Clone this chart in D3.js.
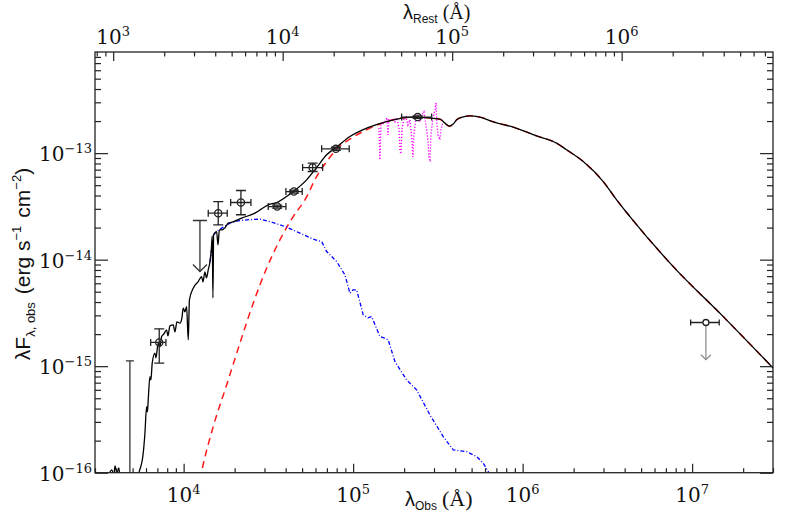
<!DOCTYPE html>
<html><head><meta charset="utf-8">
<script src="https://cdn.jsdelivr.net/npm/d3@7"></script>
<style>body{margin:0;background:#fff}svg{display:block}</style>
</head><body>
<svg id="c" width="789" height="526"></svg>
<script>
// ---------- data ----------
const zPlus1 = 3.84;
const xTickMajors = [1e4, 1e5, 1e6, 1e7];
const xRestMajors = [1e3, 1e4, 1e5, 1e6];
const yTickMajors = [1e-16, 1e-15, 1e-14, 1e-13];

// total model / spectrum (black)
const totLam = [3433,3776,3880,3933,4041,4152,4267,5232,5471,5776,5911,6049,6115,6182,6326,6413,6526,6771,6864,7081,7248,7417,7652,7937,8080,8302,8682,8886,9130,9511,9772,9945,10180,10410,10650,10820,11390,12190,12770,13000,13360,13630,13970,14300,14590,14750,14890,15030,15660,15940,16260,16760,17530,18330,19540,21990,26340,31560,35370,44320,53180,60910,69790,79910,95740,120100,157600,226200,325200,348000,368900,388000,408000,446200,488800,560100,670800,879900,1.209e6,1.587e6,1.818e6,2.278e6,2.989e6,3.585e6,4.295e6,7.736e6,1.526e7,3.01e7];
const totF = [6.9e-17,1.062e-16,9.33e-17,1.159e-16,9.96e-17,1.109e-16,6.9e-17,8.56e-17,1.024e-16,1.524e-16,2.349e-16,4.175e-16,3.723e-16,4.827e-16,7.98e-16,7.43e-16,1.067e-15,1.324e-15,1.197e-15,1.644e-15,1.518e-15,1.897e-15,2.01e-15,2.192e-15,1.926e-15,2.39e-15,2.442e-15,2.099e-15,2.606e-15,2.534e-15,2.841e-15,3.504e-15,3.235e-15,3.627e-15,1.766e-15,4.195e-15,5.40e-15,6.23e-15,6.94e-15,6.19e-15,7.68e-15,6.75e-15,8.02e-15,9.53e-15,1.29e-14,1.673e-14,4.38e-15,1.71e-14,1.836e-14,1.377e-14,1.905e-14,1.905e-14,1.989e-14,2.202e-14,2.264e-14,2.453e-14,2.733e-14,3.27e-14,3.437e-14,4.358e-14,5.614e-14,7.325e-14,9.64e-14,1.138e-13,1.432e-13,1.717e-13,1.98e-13,2.178e-13,2.085e-13,1.913e-13,1.789e-13,1.864e-13,2.055e-13,2.192e-13,2.24e-13,2.178e-13,1.967e-13,1.754e-13,1.453e-13,1.241e-13,1.074e-13,8.34e-14,5.41e-14,3.642e-14,2.539e-14,8.61e-15,2.921e-15,9.58e-16];

// stellar component (blue)
const starLam = [14300,15030,15660,16830,18760,20910,23540,28190,33770,40520,48530,58160,65200,69790,79910,89440,95740,99720,104900,114700,122300,128600,143900,152000,161100,176500,206800,236900,283900,340100,389600,467200,535400,585800,626900,659200];
const starF = [9.53e-15,1.71e-14,1.836e-14,1.989e-14,2.202e-14,2.313e-14,2.364e-14,2.4e-14,2.231e-14,2.019e-14,1.774e-14,1.558e-14,1.479e-14,1.192e-14,9.6e-15,7.2e-15,4.845e-15,5.2e-15,5.2e-15,3.031e-15,2.841e-15,2.921e-15,1.896e-15,1.843e-15,1.766e-15,1.104e-15,7.43e-16,5.99e-16,3.488e-16,2.183e-16,1.637e-16,1.578e-16,1.416e-16,1.228e-16,1.024e-16,8.56e-17];

// dust component (red dashed)
const dustLam = [12480,12770,14950,17940,21490,25740,30880,36990,44320,51960,60910,69790,79910,100100,125700,157600,226200,325200,348000,368900,388000,408000,446200,488800,560100,670800,879900,1.209e6,1.587e6,1.818e6,2.278e6,2.989e6,3.585e6,4.295e6,7.736e6,1.526e7,3.01e7];
const dustF = [8.56e-17,1.024e-16,2.709e-16,6.67e-16,1.644e-15,3.905e-15,8.32e-15,1.534e-14,2.539e-14,3.642e-14,6.03e-14,8.34e-14,1.09e-13,1.413e-13,1.717e-13,1.98e-13,2.178e-13,2.085e-13,1.913e-13,1.789e-13,1.864e-13,2.055e-13,2.192e-13,2.24e-13,2.178e-13,1.967e-13,1.754e-13,1.453e-13,1.241e-13,1.074e-13,8.34e-14,5.41e-14,3.642e-14,2.539e-14,8.61e-15,2.921e-15,9.58e-16];

// IRS spectrum (magenta dotted)
const irsLam = [142000,143900,145900,149900,154000,158300,160400,162600,167100,171700,176500,181300,186300,188900,191400,194100,199400,204900,210500,216300,222300,225300,228400,234700,241200,247800,254600,261600,268800,276200,280000,283900,287700,295700,303800,308000,312200,316500,325200,329600,338700];
const irsF = [1.724e-13,8.65e-14,1.843e-13,1.884e-13,1.967e-13,2.145e-13,1.485e-13,2.055e-13,2.01e-13,2.099e-13,1.967e-13,2.145e-13,1.724e-13,1.074e-13,9.85e-14,1.655e-13,2.099e-13,2.192e-13,1.843e-13,2.055e-13,1.333e-13,9.23e-14,1.485e-13,2.145e-13,2.24e-13,1.967e-13,2.289e-13,2.442e-13,1.843e-13,1.333e-13,9.03e-14,8.65e-14,1.485e-13,2.145e-13,2.55e-13,2.966e-13,1.843e-13,1.485e-13,1.333e-13,1.655e-13,1.967e-13];

// photometry
const photLam   = [7180, 16000, 21780, 35660, 44740, 57680, 79140, 240300];
const photLamLo = [6390, 13970, 18940, 31560, 40130, 50350, 65200, 193300];
const photLamHi = [7860, 18080, 24950, 40130, 50070, 66070, 94850, 290500];
const photF     = [1.67e-15, 2.73e-14, 3.44e-14, 3.15e-14, 4.36e-14, 7.32e-14, 1.097e-13, 2.18e-13];
const photFLo   = [1.07e-15, 2.12e-14, 2.64e-14, 3.05e-14, 4.22e-14, 6.72e-14, 1.06e-13, 2.12e-13];
const photFHi   = [2.24e-15, 3.51e-14, 4.46e-14, 3.25e-14, 4.50e-14, 8.05e-14, 1.135e-13, 2.24e-13];

// upper limits (bar with cap)
const ulLam = [4820, 12480];
const ulF   = [1.12e-15, 2.33e-14];
const ulTip = [8e-17, 7.73e-15];

// far-IR upper limit with point
const farLam = [1.206e7], farLamLo = [9.8e6], farLamHi = [1.445e7];
const farF = [2.57e-15], farTip = [1.15e-15];

// ---------- drawing ----------
const L = 95, R = 773, T = 52, B = 472.7;
const svg = d3.select("#c");
const x = d3.scaleLog().domain([3000, 3e7]).range([L, R]);
const xr = d3.scaleLog().domain([3000 / zPlus1, 3e7 / zPlus1]).range([L, R]);
const y = d3.scaleLog().domain([1e-16, 8.9e-13]).range([B, T]);

function minors(dom) {
  const out = [];
  const lo = Math.floor(Math.log10(dom[0])) , hi = Math.ceil(Math.log10(dom[1]));
  for (let e = lo; e <= hi; e++) for (let m = 2; m <= 9; m++) {
    const v = m * Math.pow(10, e);
    if (v >= dom[0] && v <= dom[1]) out.push(v);
  }
  return out;
}

svg.append("defs").append("clipPath").attr("id", "clip")
  .append("rect").attr("x", L).attr("y", T).attr("width", R - L).attr("height", B - T);

const plot = svg.append("g").attr("clip-path", "url(#clip)");
const zip = (a, b) => a.map((v, i) => [v, b[i]]);
const lin = d3.line().x(d => x(d[0])).y(d => y(d[1]));
const smooth = d3.line().x(d => x(d[0])).y(d => y(d[1])).curve(d3.curveMonotoneX);

// dust (red dashed)
plot.append("path").datum(zip(dustLam, dustF))
  .attr("d", smooth).attr("fill", "none")
  .attr("stroke", "#ff1a1a").attr("stroke-width", 1.5).attr("stroke-dasharray", "7,5");
// stars (blue dash-dot)
plot.append("path").datum(zip(starLam, starF))
  .attr("d", lin).attr("fill", "none")
  .attr("stroke", "#0000ff").attr("stroke-width", 1.3).attr("stroke-dasharray", "4,2,1,2");
// IRS (magenta dotted)
plot.append("path").datum(zip(irsLam, irsF))
  .attr("d", lin).attr("fill", "none")
  .attr("stroke", "#ff00ff").attr("stroke-width", 1.4).attr("stroke-dasharray", "1.2,1.8");
// total (black)
plot.append("path").datum(zip(totLam, totF))
  .attr("d", smooth).attr("fill", "none")
  .attr("stroke", "#000").attr("stroke-width", 1.3);

// upper limits with cap
ulLam.forEach((l, i) => {
  const px = x(l), py = y(ulF[i]), pt = y(ulTip[i]);
  const g = plot.append("g").attr("stroke", "#333").attr("stroke-width", 1.3).attr("fill", "none");
  g.append("line").attr("x1", px).attr("x2", px).attr("y1", py).attr("y2", pt);
  const cw = i === 0 ? 4 : 7;
  g.append("line").attr("x1", px - cw).attr("x2", px + cw).attr("y1", py).attr("y2", py);
  g.append("path").attr("d", `M${px - 7},${pt - 7}L${px},${pt}L${px + 7},${pt - 7}`);
});

// far-IR limit
farLam.forEach((l, i) => {
  const px = x(l), py = y(farF[i]), pt = y(farTip[i]);
  const g = plot.append("g").attr("fill", "none");
  g.append("line").attr("x1", px).attr("x2", px).attr("y1", py).attr("y2", pt).attr("stroke", "#888").attr("stroke-width", 1.2);
  g.append("path").attr("d", `M${px - 5},${pt - 5}L${px},${pt}L${px + 5},${pt - 5}`).attr("stroke", "#888").attr("stroke-width", 1.2);
  g.append("line").attr("x1", x(farLamLo[i])).attr("x2", x(farLamHi[i])).attr("y1", py).attr("y2", py).attr("stroke", "#222").attr("stroke-width", 1.3);
  [farLamLo[i], farLamHi[i]].forEach(v => g.append("line").attr("x1", x(v)).attr("x2", x(v)).attr("y1", py - 3).attr("y2", py + 3).attr("stroke", "#222").attr("stroke-width", 1.3));
  g.append("circle").attr("cx", px).attr("cy", py).attr("r", 3).attr("stroke", "#222").attr("stroke-width", 1.3).attr("fill", "#fff");
});

// photometry
photLam.forEach((l, i) => {
  const px = x(l), py = y(photF[i]);
  const g = plot.append("g").attr("stroke", "#222").attr("stroke-width", 1.3).attr("fill", "none");
  g.append("line").attr("x1", x(photLamLo[i])).attr("x2", x(photLamHi[i])).attr("y1", py).attr("y2", py);
  [photLamLo[i], photLamHi[i]].forEach(v => g.append("line").attr("x1", x(v)).attr("x2", x(v)).attr("y1", py - 3.5).attr("y2", py + 3.5));
  g.append("line").attr("x1", px).attr("x2", px).attr("y1", y(photFLo[i])).attr("y2", y(photFHi[i]));
  [photFLo[i], photFHi[i]].forEach(v => g.append("line").attr("x1", px - 5).attr("x2", px + 5).attr("y1", y(v)).attr("y2", y(v)));
  g.append("circle").attr("cx", px).attr("cy", py).attr("r", 3.6);
});

// ---------- axes ----------
const axStroke = "#222";
function styleAxis(g) {
  g.select(".domain").remove();
  g.selectAll("line").attr("stroke", axStroke).attr("stroke-width", 1.2);
  g.selectAll("text").remove();
}
svg.append("g").attr("transform", `translate(0,${B})`)
  .call(d3.axisBottom(x).tickValues(xTickMajors).tickSizeInner(-9).tickSizeOuter(0)).call(styleAxis);
svg.append("g").attr("transform", `translate(0,${B})`)
  .call(d3.axisBottom(x).tickValues(minors(x.domain())).tickSizeInner(-4.5).tickSizeOuter(0)).call(styleAxis);
svg.append("g").attr("transform", `translate(0,${T})`)
  .call(d3.axisTop(xr).tickValues(xRestMajors).tickSizeInner(-9).tickSizeOuter(0)).call(styleAxis);
svg.append("g").attr("transform", `translate(0,${T})`)
  .call(d3.axisTop(xr).tickValues(minors(xr.domain())).tickSizeInner(-4.5).tickSizeOuter(0)).call(styleAxis);
svg.append("g").attr("transform", `translate(${L},0)`)
  .call(d3.axisLeft(y).tickValues(yTickMajors).tickSizeInner(-13).tickSizeOuter(0)).call(styleAxis);
svg.append("g").attr("transform", `translate(${L},0)`)
  .call(d3.axisLeft(y).tickValues(minors(y.domain())).tickSizeInner(-6).tickSizeOuter(0)).call(styleAxis);
svg.append("g").attr("transform", `translate(${R},0)`)
  .call(d3.axisRight(y).tickValues(yTickMajors).tickSizeInner(-13).tickSizeOuter(0)).call(styleAxis);
svg.append("g").attr("transform", `translate(${R},0)`)
  .call(d3.axisRight(y).tickValues(minors(y.domain())).tickSizeInner(-6).tickSizeOuter(0)).call(styleAxis);

svg.append("rect").attr("x", L).attr("y", T).attr("width", R - L).attr("height", B - T)
  .attr("fill", "none").attr("stroke", axStroke).attr("stroke-width", 1.3);

// tick labels
const serif = "'DejaVu Serif', 'Liberation Serif', serif";
const serif2 = "'Liberation Serif', 'Times New Roman', serif";
const sans = "'Liberation Sans', Arial, sans-serif";
function powLabel(sel, v) {
  const e = Math.round(Math.log10(v));
  sel.append("tspan").text("10");
  sel.append("tspan").attr("font-size", 13).attr("dy", -8).text(e < 0 ? "\u2212" + (-e) : String(e));
}
xTickMajors.forEach(v => {
  svg.append("text").attr("x", x(v)).attr("y", 502).attr("text-anchor", "middle")
    .attr("font-family", serif).attr("font-size", 20).attr("fill", "#111").call(powLabel, v);
});
xRestMajors.forEach(v => {
  svg.append("text").attr("x", xr(v)).attr("y", 44).attr("text-anchor", "middle")
    .attr("font-family", serif).attr("font-size", 20).attr("fill", "#111").call(powLabel, v);
});
yTickMajors.forEach(v => {
  svg.append("text").attr("x", 92).attr("y", y(v) + 8).attr("text-anchor", "end")
    .attr("font-family", serif).attr("font-size", 20).attr("fill", "#111").call(powLabel, v);
});

// axis titles
const xt = svg.append("text").attr("x", 405).attr("y", 506).attr("fill", "#111");
xt.append("tspan").attr("font-family", sans).attr("font-size", 20).text("\u03bb");
xt.append("tspan").attr("font-family", sans).attr("font-size", 12).attr("dy", 4).text("Obs");
xt.append("tspan").attr("font-family", serif2).attr("font-size", 22).attr("dy", -4).attr("dx", 5).text("(\u00c5)");

const tt = svg.append("text").attr("x", 403).attr("y", 19).attr("fill", "#111");
tt.append("tspan").attr("font-family", sans).attr("font-size", 20).text("\u03bb");
tt.append("tspan").attr("font-family", sans).attr("font-size", 12).attr("dy", 4).text("Rest");
tt.append("tspan").attr("font-family", serif2).attr("font-size", 20).attr("dy", -4).attr("dx", 5).text("(\u00c5)");

const yt = svg.append("text").attr("transform", "translate(30,264) rotate(-90)")
  .attr("text-anchor", "middle").attr("font-family", sans).attr("font-size", 21).attr("fill", "#111");
yt.append("tspan").text("\u03bbF");
yt.append("tspan").attr("font-size", 13).attr("dy", 5).text("\u03bb, obs");
yt.append("tspan").attr("dy", -5).attr("dx", 8).text("(erg s");
yt.append("tspan").attr("font-size", 13).attr("dy", -9).text("\u22121");
yt.append("tspan").attr("dy", 9).attr("dx", 8).text("cm");
yt.append("tspan").attr("font-size", 13).attr("dy", -9).text("\u22122");
yt.append("tspan").attr("dy", 9).text(")");
</script>
</body></html>
